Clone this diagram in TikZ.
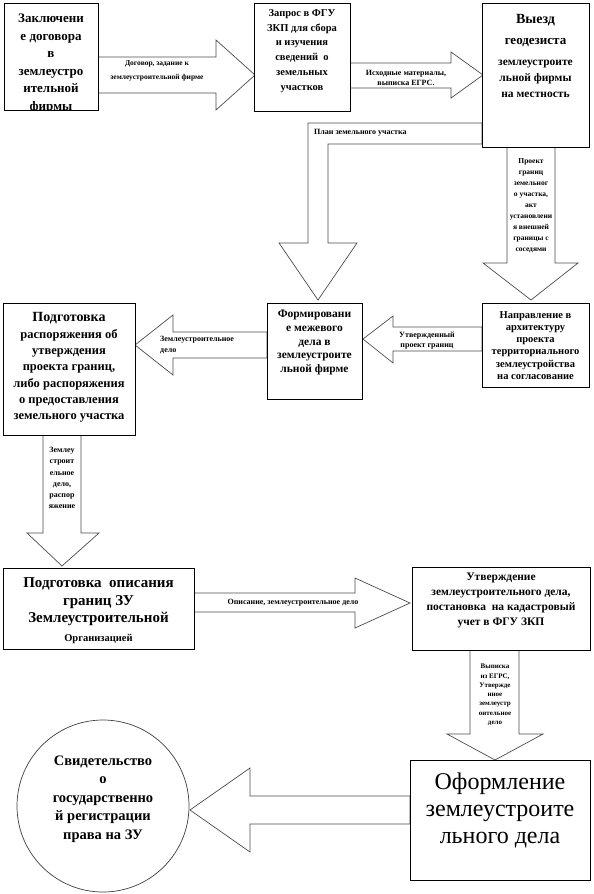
\documentclass[tikz,border=0pt]{standalone}
\usepackage{fontspec}
\setmainfont{Liberation Serif}
\begin{document}
\begin{tikzpicture}[x=1pt,y=-1pt,line join=miter,
  box/.style={draw=black,line width=0.9pt,fill=white,inner sep=0pt,anchor=north west},
  barrow/.style={draw=black!70,line width=0.7pt,fill=white},
  txt/.style 2 args={inner sep=0pt,align=center,font=\bfseries\fontsize{#1}{#2}\selectfont},
  rtxt/.style 2 args={inner sep=0pt,align=center,font=\fontsize{#1}{#2}\selectfont}]
\useasboundingbox (0,0) rectangle (594,894);

% ---- block arrows ----
\draw[barrow] (98,57) -- (216,57) -- (216,40) -- (255,75) -- (216,110) -- (216,93) -- (98,93) -- cycle;
\draw[barrow] (350,63) -- (451,63) -- (451,52) -- (483,75) -- (451,98) -- (451,88) -- (350,88) -- cycle;
\draw[barrow] (482,123) -- (308,123) -- (308,243) -- (279,243) -- (318,300) -- (357,243) -- (328,243) -- (328,144) -- (482,144) -- cycle;
\draw[barrow] (507,147) -- (507,263) -- (483,263) -- (531,300) -- (578,263) -- (555,263) -- (555,147) -- cycle;
\draw[barrow] (482,327) -- (393,327) -- (393,316) -- (363,339) -- (393,363) -- (393,351) -- (482,351) -- cycle;
\draw[barrow] (267,332) -- (173,332) -- (173,315) -- (135,345) -- (173,375) -- (173,358) -- (267,358) -- cycle;
\draw[barrow] (43,435) -- (43,533) -- (27,533) -- (62,566) -- (99,533) -- (81,533) -- (81,435) -- cycle;
\draw[barrow] (194,593) -- (355,593) -- (355,578) -- (410,603) -- (355,628) -- (355,612) -- (194,612) -- cycle;
\draw[barrow] (470,650) -- (470,734) -- (447,734) -- (495,760) -- (543,734) -- (519,734) -- (519,650) -- cycle;
\draw[barrow] (410,796) -- (250,796) -- (250,768) -- (190,810) -- (250,852) -- (250,824) -- (410,824) -- cycle;

% ---- boxes ----
\node[box,minimum width=94pt,minimum height=107pt] (b1) at (4,3) {};
\node[box,minimum width=96pt,minimum height=108pt] (b2) at (254,3) {};
\node[box,minimum width=107pt,minimum height=144pt] (b3) at (482,3) {};
\node[box,minimum width=95pt,minimum height=96pt] (b4) at (267,303) {};
\node[box,minimum width=107pt,minimum height=84pt] (b5) at (482,303) {};
\node[box,minimum width=132pt,minimum height=132pt] (b6) at (3,303) {};
\node[box,minimum width=191pt,minimum height=81pt] (b7) at (3,568) {};
\node[box,minimum width=178pt,minimum height=83pt] (b8) at (412,567) {};
\node[box,minimum width=180pt,minimum height=120pt] (b9) at (410,760) {};
\node[draw=black!75,line width=0.7pt,fill=white,circle,minimum size=172pt,inner sep=0pt] (c1) at (103,806) {};

% ---- box texts ----
\begin{scope}
\clip (4,3) rectangle (98,110);
\node[txt={13}{17.5}] (t1) at (51,63.5) {Заключени\\е договора\\в\\землеустро\\ительной\\фирмы};
\end{scope}
\node[txt={10.5}{14.8}] (t2) at (302,51) {Запрос в ФГУ\\ЗКП для сбора\\и изучения\\сведений~~о\\земельных\\участков};
\node[txt={14}{16}] (t3a) at (535.5,20) {Выезд};
\node[txt={13}{15}] (t3b) at (535.5,43) {геодезиста};
\node[txt={11.5}{16}] (t3c) at (535.5,79) {землеустроите\\льной фирмы\\на местность};
\node[txt={11.5}{13.8}] (t4) at (314.5,342.5) {Формировани\\е межевого\\дела в\\землеустроите\\льной фирме};
\node[txt={10.5}{12.2}] (t5) at (535.5,345.5) {Направление в\\архитектуру\\проекта\\территориального\\землеустройства\\на согласование};
\node[txt={14}{16}] (t6a) at (69,318) {Подготовка};
\node[txt={12.5}{16.3}] (t6b) at (69,376) {распоряжения об\\утверждения\\проекта границ,\\либо распоряжения\\о предоставления\\земельного участка};
\node[txt={15}{17.5}] (t7) at (98.5,602) {Подготовка~~описания\\границ ЗУ\\Землеустроительной};
\node[txt={10.5}{12}] (t7b) at (98.5,639) {Организацией};
\node[txt={11.5}{15}] (t8) at (501,600.5) {Утверждение\\землеустроительного дела,\\постановка~~на кадастровый\\учет в ФГУ ЗКП};
\node[rtxt={24}{27}] (t9) at (500,810) {Оформление\\землеустроите\\льного дела};
\node[txt={14.5}{18.5}] (tc) at (103,799) {Свидетельство\\о\\государственно\\й регистрации\\права на ЗУ};

% ---- arrow labels ----
\node[txt={7.5}{14}] (l1) at (157,71) {Договор, задание к\\землеустроительной фирме};
\node[txt={8}{10}] (l2) at (406,78) {Исходные материалы,\\выписка ЕГРС.};
\node[txt={8}{10},anchor=west] (l3) at (314,133) {План земельного участка};
\node[txt={7.5}{11}] (l4) at (531,206) {Проект\\границ\\земельног\\о участка,\\акт\\установлени\\я внешней\\границы с\\соседями};
\node[txt={8}{10}] (l5) at (427,341) {Утвержденный\\проект границ};
\node[txt={8}{11},align=left,anchor=west] (l6) at (160,345.5) {Землеустроительное\\дело};
\node[txt={8}{11.2}] (l7) at (62,478) {Землеу\\строит\\ельное\\дело,\\распор\\яжение};
\node[txt={8}{10}] (l8) at (293,603) {Описание, землеустроительное дело};
\node[txt={7}{9.3}] (l9) at (495,695) {Выписка\\из ЕГРС,\\Утвержде\\нное\\землеустр\\оительное\\дело};
\end{tikzpicture}
\end{document}
